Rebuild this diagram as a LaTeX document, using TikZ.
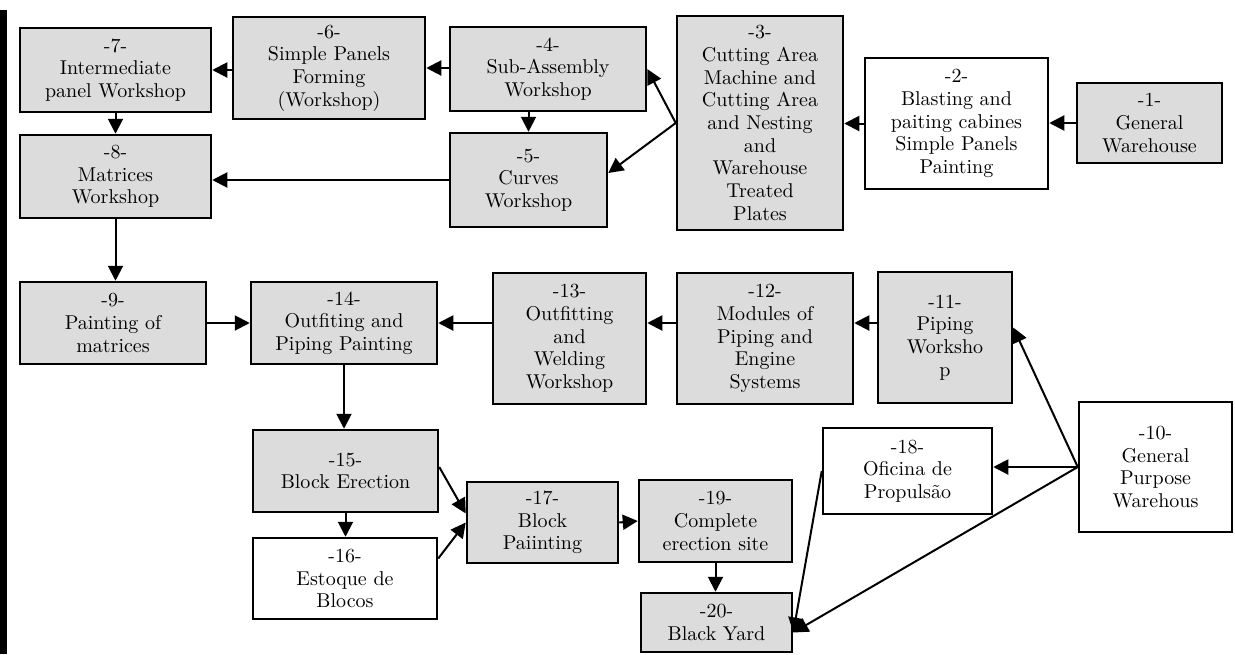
\documentclass[tikz,border=0pt]{standalone}
\usepackage{fontspec}
\newfontfamily\stagefont{lmroman10-regular.otf}
\usetikzlibrary{arrows.meta, calc}
\definecolor{cfill}{HTML}{DCDCDC}
\tikzset{
  every picture/.style={font=\stagefont\fontsize{20}{22.7}\selectfont, line width=2pt},
  stage/.style={draw=black, fill=#1, line width=2.5pt, align=center, inner sep=0pt},
  stage/.default=cfill,
  flow/.style={-{Triangle[length=15pt, width=15pt]}, line width=2pt},
}

\begin{document}
\begin{tikzpicture}[x=1pt, y=-1pt]
  \useasboundingbox (0,0) rectangle (1235,654);
  \fill[black] (0,10) rectangle (7,654);
  % first row: plates and panels
  \node[stage, minimum width=145, minimum height=80] (n1) at (1149.5,123) {-1-\\General\\Warehouse};
  \node[stage=white, minimum width=183, minimum height=131] (n2) at (956.5,123.5) {-2-\\Blasting and\\paiting cabines\\Simple Panels\\Painting};
  \node[stage, minimum width=166, minimum height=214] (n3) at (760,123) {-3-\\Cutting Area\\Machine and\\Cutting Area\\and Nesting\\and\\Warehouse\\Treated\\Plates};
  \node[stage, minimum width=196, minimum height=84] (n4) at (548,69) {-4-\\Sub-Assembly\\Workshop};
  \node[stage, minimum width=157, minimum height=94] (n5) at (528.5,180) {-5-\\Curves\\Workshop};
  \node[stage, minimum width=192, minimum height=102] (n6) at (329,68) {-6-\\Simple Panels\\Forming\\(Workshop)};
  \node[stage, minimum width=191, minimum height=84] (n7) at (115.5,70) {-7-\\Intermediate\\panel Workshop};
  \node[stage, minimum width=191, minimum height=83] (n8) at (115.5,176.5) {-8-\\Matrices\\Workshop};
  % second row: outfitting and piping
  \node[stage, minimum width=186, minimum height=82] (n9) at (113,323) {-9-\\Painting of\\matrices};
  \node[stage, minimum width=186, minimum height=82] (n14) at (344,323) {-14-\\Outfiting and\\Piping Painting};
  \node[stage, minimum width=153, minimum height=131] (n13) at (569.5,338.5) {-13-\\Outfitting\\and\\Welding\\Workshop};
  \node[stage, minimum width=176, minimum height=131] (n12) at (765,338.5) {-12-\\Modules of\\Piping and\\Engine\\Systems};
  \node[stage, minimum width=134, minimum height=131] (n11) at (945,337.5) {-11-\\Piping\\Worksho\\p};
  \node[stage=white, minimum width=153, minimum height=130] (n10) at (1155.5,467) {-10-\\General\\Purpose\\Warehous};
  \node[stage=white, minimum width=169, minimum height=86] (n18) at (907.5,471) {-18-\\Oficina de\\Propulsão};
  % blocks
  \node[stage, minimum width=185, minimum height=82] (n15) at (345.5,471) {-15-\\Block Erection};
  \node[stage=white, minimum width=184, minimum height=81] (n16) at (345,578.5) {-16-\\Estoque de\\Blocos};
  \node[stage, minimum width=151, minimum height=81] (n17) at (542.5,522.5) {-17-\\Block\\Paiinting};
  \node[stage, minimum width=153, minimum height=82] (n19) at (715.5,521) {-19-\\Complete\\erection site};
  \node[stage, minimum width=151, minimum height=59] (n20) at (716.5,622.5) {-20-\\Black Yard};

  \draw[flow] (n1.west) -- (n2.east |- n1.west);
  \draw[flow] (n2.west) -- (n3.east |- n2.west);
  \draw[flow] (n3.west) -- (n4.east);
  \draw[flow] (n3.west) -- ([yshift=7pt]n5.east);
  \draw[flow] (n4.south -| n5) -- (n5.north);
  \draw[flow] (n4.west |- n6) -- (n6.east);
  \draw[flow] (n6.west |- n7) -- (n7.east);
  \draw[flow] (n7.south) -- (n8.north);
  \draw[flow] (n5.west) -- (n8.east |- n5.west);
  \draw[flow] (n8.south) -- (n8.south |- n9.north);
  \draw[flow] (n9.east) -- (n14.west);
  \draw[flow] (n13.west |- n14) -- (n14.east);
  \draw[flow] (n12.west |- n14) -- (n13.east |- n14);
  \draw[flow] (n11.west |- n14) -- (n12.east |- n14);
  \draw[flow] (n10.west) -- ([yshift=10pt]n11.east);
  \draw[flow] (n10.west) -- (n18.east |- n10.west);
  \draw[flow] (n10.west) -- ([yshift=-10pt]n20.east);
  \draw[flow] (n18.west) -- ([yshift=-10pt]n20.east);
  \draw[flow] (n14.south) -- (n14.south |- n15.north);
  \draw[flow] (n15.south) -- (n15.south |- n16.north);
  \draw[flow] ([yshift=4pt]n15.east) -- ([yshift=9pt]n17.west);
  \draw[flow] ([yshift=20pt]n16.east) -- (n17.west);
  \draw[flow] (n17.east) -- (n19.west);
  \draw[flow] (n19.south) -- (n19.south |- n20.north);
\end{tikzpicture}
\end{document}
